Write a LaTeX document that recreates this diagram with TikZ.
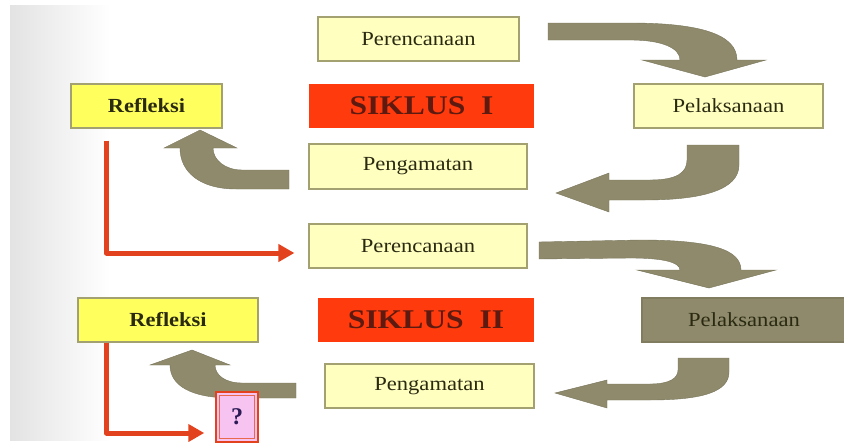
\documentclass[tikz,border=0pt]{standalone}
\usepackage{fontspec}
\setmainfont{Liberation Serif}
\usetikzlibrary{arrows.meta,calc}
\definecolor{lyel}{HTML}{FFFFC0}
\definecolor{byel}{HTML}{FFFF5E}
\definecolor{boxline}{HTML}{A3A072}
\definecolor{sred}{HTML}{FF3A0C}
\definecolor{sredtxt}{HTML}{5C1A10}
\definecolor{garr}{HTML}{8E8A6B}
\definecolor{rline}{HTML}{E2431E}
\definecolor{txtc}{HTML}{2A2A12}
\definecolor{qpink}{HTML}{F7C4F2}
\definecolor{qtxt}{HTML}{2B1A55}
\newcommand{\sxt}[2][1.13]{\scalebox{#1}[1]{#2}}
\tikzset{
  ybox/.style={draw=boxline, line width=1.2pt, fill=lyel, inner sep=0pt,
    text=txtc, font=\fontsize{20}{22}\selectfont},
  rbox/.style={ybox, fill=byel, font=\fontsize{20}{22}\selectfont\bfseries},
  sbox/.style={fill=sred, inner sep=0pt, text=sredtxt,
    font=\fontsize{27}{30}\selectfont\bfseries},
  gbox/.style={ybox, fill=garr, draw=garr!90!black},
  garrow/.style={fill=garr, draw=garr!85!black, line width=0.4pt},
  rarrow/.style={draw=rline, line width=5pt, line join=round,
    -{Triangle[length=16pt,width=17pt]}},
}
\begin{document}
\begin{tikzpicture}[x=1pt,y=-1pt]
\useasboundingbox (0,0) rectangle (844,447);
\fill[white] (0,0) rectangle (844,447);
\shade[left color=black!11, right color=white] (10,5) rectangle (110,440);

% boxes
\node[ybox, minimum width=201pt, minimum height=44pt] (per1) at (418.5,39) {\sxt{Perencanaan}};
\node[rbox, minimum width=151pt, minimum height=44pt] (ref1) at (146.5,106) {\sxt[1.12]{Refleksi}};
\node[sbox, minimum width=225pt, minimum height=44pt] (sik1) at (421.5,106) {\sxt[1.17]{SIKLUS\ \ I}};
\node[ybox, minimum width=189pt, minimum height=44pt] (pel1) at (728.5,106) {\sxt{Pelaksanaan}};
\node[ybox, minimum width=218pt, minimum height=45pt] (pen1) at (418,166.5) {\sxt{Pengamatan}};

\node[ybox, minimum width=218pt, minimum height=44pt] (per2) at (418,246) {\sxt{Perencanaan}};
\node[rbox, minimum width=180pt, minimum height=44pt] (ref2) at (168,320) {\sxt[1.12]{Refleksi}};
\node[sbox, minimum width=216pt, minimum height=44pt] (sik2) at (426,320) {\sxt[1.17]{SIKLUS\ \ II}};
\node[gbox, minimum width=204pt, minimum height=44pt] (pel2) at (744,320) {\sxt{Pelaksanaan}};
\node[ybox, minimum width=209pt, minimum height=44pt] (pen2) at (429.5,386) {\sxt{Pengamatan}};

% gray curved arrows
\path[garrow] (548,23) -- (630,23) .. controls (702,23) and (737,35) .. (737,60)
  -- (766,60) -- (705,77) -- (642,60) -- (680,60)
  .. controls (680,48) and (662,40) .. (630,40) -- (548,40) -- cycle;
\path[garrow] (687,145) -- (739,145) -- (739,165)
  .. controls (739,190) and (702,200) .. (645,200) -- (609,200) -- (609,212)
  -- (556,193) -- (609,173) -- (609,180) -- (650,180)
  .. controls (678,180) and (687,172) .. (687,160) -- cycle;
\path[garrow] (289,170) -- (242,170) .. controls (225,170) and (213,160) .. (213,148)
  -- (237,148) -- (200,130) -- (164,148) -- (180,148)
  .. controls (180,172) and (200,189) .. (236,189) -- (289,189) -- cycle;
\path[garrow] (539,242) -- (640,240) .. controls (712,240) and (741,250) .. (741,270)
  -- (776,270) -- (709,288) -- (637,270) -- (680,270)
  .. controls (680,262) and (662,258) .. (630,258) -- (539,259) -- cycle;
\path[garrow] (678,358) -- (729,358) -- (729,372)
  .. controls (729,392) and (702,400) .. (650,400) -- (607,400) -- (607,408)
  -- (555,393) -- (607,380) -- (607,384) -- (650,384)
  .. controls (670,384) and (678,378) .. (678,370) -- cycle;
\path[garrow] (296,383) -- (242,383) .. controls (225,383) and (215,375) .. (215,365)
  -- (230,365) -- (192,350) -- (150,365) -- (170,365)
  .. controls (170,385) and (190,398) .. (232,398) -- (296,398) -- cycle;

% red L arrows
\coordinate (r1s) at ($(ref1.south west)+(36,12)$);
\coordinate (r1e) at ($(per2.west)+(-14,7)$);
\draw[rarrow] (r1s) |- (r1e);
\node[draw=rline, line width=1.5pt, fill=qpink, minimum width=42pt, minimum height=50pt,
  inner sep=0pt, text=qtxt, font=\fontsize{24}{26}\selectfont\bfseries] (q) at (237,417) {?};
\draw[rline!80, line width=0.8pt] ($(q.north west)+(4,4)$) rectangle ($(q.south east)+(-4,-4)$);
\coordinate (r2s) at ($(ref2.south west)+(29,0)$);
\coordinate (r2e) at ($(q.west)+(-11,16)$);
\draw[rarrow] (r2s) |- (r2e);
\end{tikzpicture}
\end{document}
